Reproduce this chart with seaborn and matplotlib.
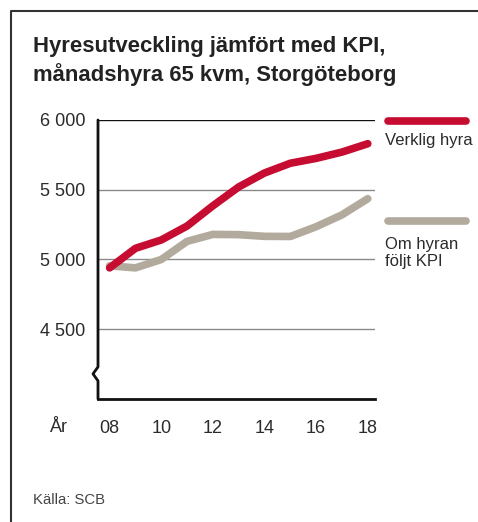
"""
Hyresutveckling jämfört med KPI, månadshyra 65 kvm, Storgöteborg.
Recreated with seaborn; saves out.png.
"""
import pandas as pd
import matplotlib.pyplot as plt
from matplotlib.lines import Line2D
import seaborn as sns

# data
years = [8, 9, 10, 11, 12, 13, 14, 15, 16, 17, 18]
verklig_hyra = [4940, 5080, 5140, 5240, 5385, 5520, 5620, 5690, 5725, 5770, 5830]
hyra_kpi = [4955, 4940, 5000, 5130, 5180, 5178, 5166, 5165, 5235, 5320, 5436]
series_names = ["Verklig hyra", "Om hyran\nföljt KPI"]
y_ticks = [4500, 5000, 5500, 6000]
x_ticks = [8, 10, 12, 14, 16, 18]

RED = "#c60c30"
GREY = "#b3aa9e"
TXT = "#2b2b2b"

df = pd.DataFrame({
    "year": years * 2,
    "value": verklig_hyra + hyra_kpi,
    "serie": [series_names[0]] * len(years) + [series_names[1]] * len(years),
})

sns.set_style("white")
plt.rcParams["font.family"] = ["Liberation Sans", "DejaVu Sans"]

W, H = 478, 522
fig = plt.figure(figsize=(W / 100, H / 100), dpi=100)
ax = fig.add_axes([98 / W, 1 - 399 / H, (375 - 98) / W, (399 - 120) / H])

# gridlines first so the data sits on top
for t in y_ticks:
    ax.axhline(t, color="#111111" if t == 6000 else "#8a8a8a", lw=1.0, zorder=1)

sns.lineplot(data=df, x="year", y="value", hue="serie", hue_order=series_names[::-1],
             palette={series_names[0]: RED, series_names[1]: GREY},
             lw=5.5, ax=ax, legend=False, zorder=3,
             solid_capstyle="round", solid_joinstyle="round")

ax.set_xlim(7.55, 18.28)
ax.set_ylim(4000, 6000)
ax.set_xlabel("")
ax.set_ylabel("")

ax.set_yticks(y_ticks)
ax.set_yticklabels([f"{t:,}".replace(",", " ") for t in y_ticks])
ax.set_xticks(x_ticks)
ax.set_xticklabels([f"{t:02d}" for t in x_ticks])
ax.set_xticks(years, minor=True)
ax.tick_params(axis="y", length=0, pad=9, labelsize=13, labelcolor=TXT)
ax.tick_params(axis="x", which="both", direction="in", length=4, width=1.3,
               color="#111111", pad=15, labelsize=13, labelcolor=TXT)

for s in ["top", "right", "left"]:
    ax.spines[s].set_visible(False)
ax.spines["bottom"].set_color("#111111")
ax.spines["bottom"].set_linewidth(2)

# left axis with a break near the bottom
ax.add_line(Line2D([0, 0, -0.018, 0, 0], [1, 0.115, 0.09, 0.065, 0],
                   transform=ax.transAxes, color="#111111", lw=2,
                   clip_on=False, zorder=4))

fig.text(50 / W, 1 - 427 / H, "År", fontsize=13, color=TXT, va="center")

# title and source
fig.text(33 / W, 1 - 61 / H, "Hyresutveckling jämfört med KPI,\nmånadshyra 65 kvm, Storgöteborg",
         fontsize=15.9, fontweight="bold", color="#222222", va="center", linespacing=1.3)
fig.text(33 / W, 1 - 500 / H, "Källa: SCB", fontsize=10.7, color="#444444", va="center")

# legend drawn to the right of the plot
for y_line, y_text, name, col in [(121, 140, series_names[0], RED),
                                  (221, 253, series_names[1], GREY)]:
    fig.add_artist(Line2D([388 / W, 466 / W], [1 - y_line / H] * 2, color=col,
                          lw=5.5, solid_capstyle="round"))
    fig.text(385 / W, 1 - y_text / H, name, fontsize=12, color=TXT, va="center",
             linespacing=1.2)

# frame around the graphic (top and left only)
fig.add_artist(Line2D([11 / W, 11 / W, 1], [0, 1 - 11 / H, 1 - 11 / H],
                      color="#333333", lw=1.5))

fig.savefig("out.png", dpi=100)
